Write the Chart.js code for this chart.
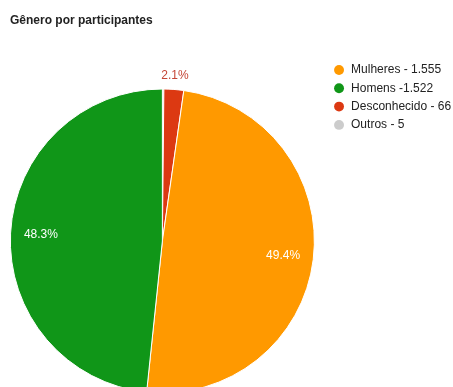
<!DOCTYPE html>
<html lang="pt-BR">
<head>
<meta charset="utf-8">
<title>Gênero por participantes</title>
<script src="https://cdn.jsdelivr.net/npm/chart.js@4/dist/chart.umd.min.js"></script>
<style>
  html, body { margin: 0; padding: 0; background: #fff; width: 453px; height: 387px; overflow: hidden; }
  #title {
    position: absolute; left: 10px; top: 13px;
    font: bold 12px/14px "Liberation Sans", Arial, sans-serif;
    color: #222; white-space: nowrap; z-index: 2;
  }
  #wrap { position: absolute; left: -2px; top: 0; width: 465px; height: 430px; }
</style>
</head>
<body>
<div id="title">Gênero por participantes</div>
<div id="wrap"><canvas id="chart"></canvas></div>
<script>
// Categories in legend order
const categories = ['Mulheres', 'Homens', 'Desconhecido', 'Outros'];
const counts = [1555, 1522, 66, 5];
const legendTexts = ['Mulheres - 1.555', 'Homens -1.522', 'Desconhecido - 66', 'Outros - 5'];
const colors = ['#FF9900', '#109618', '#DC3912', '#CCCCCC'];
// Order in which slices are laid out clockwise from 12 o'clock
const sliceOrder = [3, 2, 0, 1];

const total = counts.reduce((a, b) => a + b, 0);
const FONT = '"Liberation Sans", Arial, sans-serif';

// Percentage labels: inside for large slices, outside for small ones, none for tiny ones
const percentLabels = {
  id: 'percentLabels',
  afterDatasetsDraw(chart) {
    const ctx = chart.ctx;
    const meta = chart.getDatasetMeta(0);
    ctx.save();
    ctx.font = '12px ' + FONT;
    ctx.textAlign = 'center';
    ctx.textBaseline = 'middle';
    meta.data.forEach((arc, i) => {
      const cat = sliceOrder[i];
      const share = counts[cat] / total;
      if (share < 0.01) return;
      const { x, y, startAngle, endAngle, outerRadius } = arc.getProps(['x', 'y', 'startAngle', 'endAngle', 'outerRadius'], true);
      const mid = (startAngle + endAngle) / 2;
      const inside = share >= 0.05;
      const dist = inside ? outerRadius * 0.8 : outerRadius + 14;
      ctx.fillStyle = inside ? '#ffffff' : '#c44536';
      ctx.fillText((share * 100).toFixed(1) + '%', x + Math.cos(mid) * dist, y + Math.sin(mid) * dist);
    });
    ctx.restore();
  }
};

new Chart(document.getElementById('chart'), {
  type: 'pie',
  data: {
    labels: sliceOrder.map(i => categories[i]),
    datasets: [{
      data: sliceOrder.map(i => counts[i]),
      backgroundColor: sliceOrder.map(i => colors[i]),
      borderColor: '#ffffff',
      borderWidth: 1,
      radius: 152
    }]
  },
  options: {
    responsive: true,
    maintainAspectRatio: false,
    animation: false,
    events: [],
    layout: { padding: { left: 0, right: 1.9, top: 57.7, bottom: 5.7 } },
    plugins: {
      title: { display: false },
      tooltip: { enabled: false },
      legend: {
        position: 'right',
        align: 'start',
        labels: {
          usePointStyle: true,
          pointStyle: 'circle',
          boxWidth: 12,
          boxHeight: 7,
          padding: 6.3,
          color: '#222',
          font: { family: FONT, size: 12 },
          generateLabels: () => categories.map((c, i) => ({
            text: legendTexts[i],
            fillStyle: colors[i],
            strokeStyle: colors[i],
            lineWidth: 0,
            pointStyle: 'circle',
            fontColor: '#222',
            hidden: false,
            index: sliceOrder.indexOf(i)
          }))
        }
      }
    }
  },
  plugins: [percentLabels]
});
</script>
</body>
</html>
